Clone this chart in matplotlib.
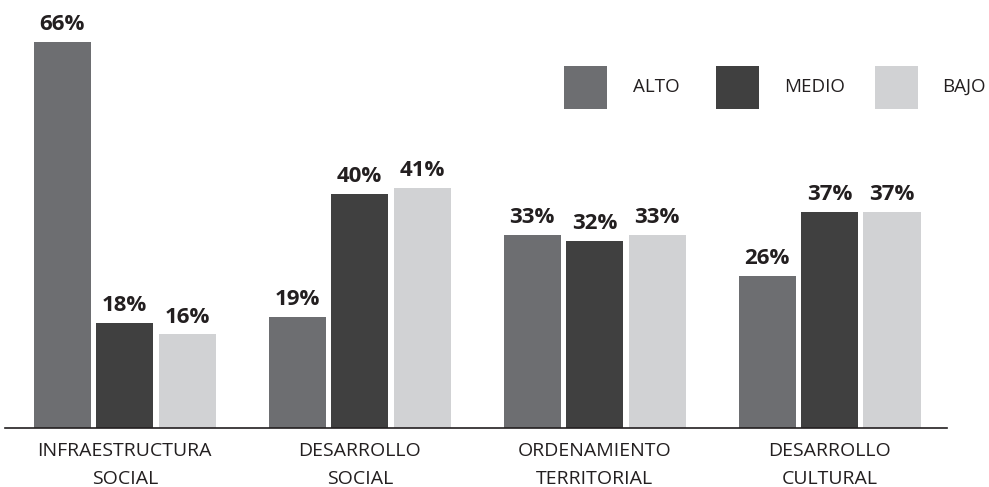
import matplotlib
matplotlib.use('Agg')
import matplotlib.pyplot as plt
from matplotlib.patches import Rectangle
import numpy as np

categories = ['INFRAESTRUCTURA\nSOCIAL', 'DESARROLLO\nSOCIAL', 'ORDENAMIENTO\nTERRITORIAL', 'DESARROLLO\nCULTURAL']
series = ['ALTO', 'MEDIO', 'BAJO']
alto = [66, 19, 33, 26]
medio = [18, 40, 32, 37]
bajo = [16, 41, 33, 37]
colors = ['#6d6e71', '#404040', '#d1d2d4']

plt.rcParams['font.family'] = ['Open Sans', 'DejaVu Sans']
text_color = '#231f20'

fig = plt.figure(figsize=(9.89, 4.87), dpi=100)
ax = fig.add_axes([5 / 989, 59 / 487, 942 / 989, 428 / 487])

x = np.arange(len(categories))
width = 0.243
offset = 0.266
for i, (vals, col) in enumerate(zip([alto, medio, bajo], colors)):
    bars = ax.bar(x + (i - 1) * offset, vals, width, color=col, linewidth=0)
    for b, v in zip(bars, vals):
        ax.annotate(f'{v}%', (b.get_x() + b.get_width() / 2, v), xytext=(0, 5),
                    textcoords='offset points', ha='center', va='bottom',
                    fontsize=16, fontweight='bold', color=text_color)

ax.set_xlim(-0.51, 3.5)
ax.set_ylim(0, 73.2)
for s in ['top', 'right', 'left']:
    ax.spines[s].set_visible(False)
ax.spines['bottom'].set_color('#231f20')
ax.spines['bottom'].set_linewidth(1.2)
ax.set_yticks([])
ax.set_xticks(x)
ax.set_xticklabels(categories, fontsize=14, color=text_color, linespacing=1.72)
ax.tick_params(axis='x', length=0, pad=10)

# legend
leg_sq = [564, 716, 875]
leg_tx = [656, 815, 964]
for sx, tx, name, col in zip(leg_sq, leg_tx, series, colors):
    fig.patches.append(Rectangle((sx / 989, 1 - 109 / 487), 43 / 989, 43 / 487,
                                 transform=fig.transFigure, color=col, lw=0))
    fig.text(tx / 989, 1 - 87 / 487, name, ha='center', va='center',
             fontsize=13.5, color=text_color)

fig.savefig('out.png', dpi=100)
